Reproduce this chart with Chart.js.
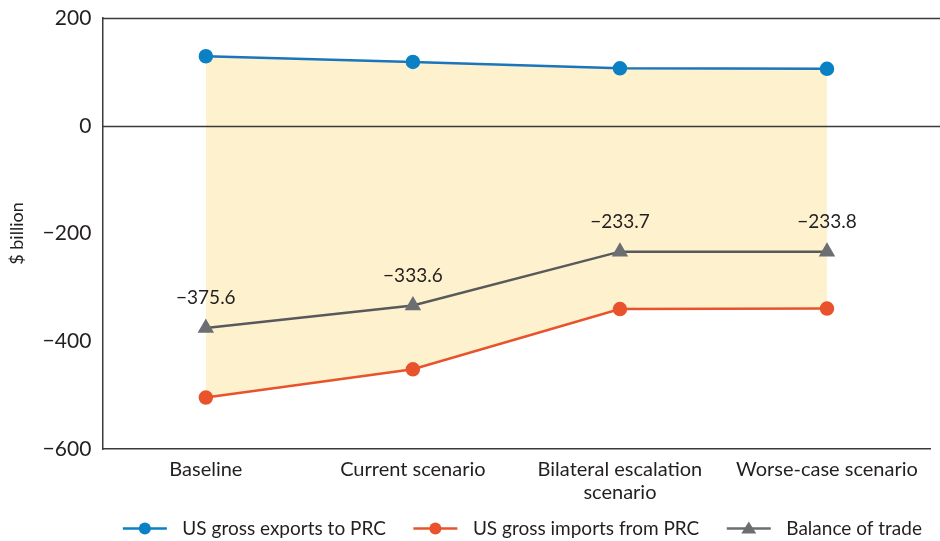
<!DOCTYPE html>
<html>
<head>
<meta charset="utf-8">
<script src="https://cdn.jsdelivr.net/npm/chart.js@4"></script>
<style>
html,body{margin:0;padding:0;background:#fff;}
#wrap{width:940px;height:541px;position:relative;}
</style>
</head>
<body>
<div id="wrap"><canvas id="c" width="940" height="541"></canvas></div>
<script>
const categories = ["Baseline", "Current scenario", ["Bilateral escalation", "scenario"], "Worse-case scenario"];
const exportsToPRC = [129.0, 118.4, 106.5, 105.6];
const importsFromPRC = [-504.6, -452.0, -340.2, -339.4];
const balanceOfTrade = [-375.6, -333.6, -233.7, -233.8];
const balanceLabels = ["\u2212375.6", "\u2212333.6", "\u2212233.7", "\u2212233.8"];
const yTicks = [200, 0, -200, -400, -600];

const FONT = "Lato, 'Open Sans', sans-serif";
const TXT = '#231f20';
const markers = [
  {style:'circle', color:'#0a81c4'},
  {style:'circle', color:'#e9532b'},
  {style:'triangle', color:'#6d6e71'}
];
const LEG_BOX = 62, LEG_LINE = 44, LEG_LEAD = 12;

const overlay = {
  id:'overlay',
  afterDatasetsDraw(chart){
    const ctx = chart.ctx, ca = chart.chartArea, y = chart.scales.y;
    ctx.save();
    ctx.strokeStyle = '#3a3a3a';
    ctx.lineWidth = 1.5;
    [0, 200].forEach(v=>{
      const py = Math.round(y.getPixelForValue(v)) + 0.5;
      ctx.beginPath(); ctx.moveTo(ca.left, py); ctx.lineTo(chart.width, py); ctx.stroke();
    });
    const meta = chart.getDatasetMeta(2);
    ctx.fillStyle = TXT;
    ctx.font = "19px " + FONT;
    ctx.textAlign = 'center';
    ctx.textBaseline = 'middle';
    meta.data.forEach((pt,i)=>{
      ctx.fillText(balanceLabels[i], pt.x, pt.y - 30);
    });
    ctx.restore();
  },
  afterDraw(chart){
    const lg = chart.legend;
    if(!lg || !lg.legendHitBoxes) return;
    const ctx = chart.ctx;
    ctx.save();
    lg.legendHitBoxes.forEach((hb,i)=>{
      const x0 = hb.left + LEG_LEAD;
      const cx = x0 + LEG_LINE/2;
      const cy = hb.top + hb.height/2;
      ctx.strokeStyle = markers[i].color;
      ctx.lineWidth = 2.5;
      ctx.beginPath(); ctx.moveTo(x0, cy); ctx.lineTo(x0+LEG_LINE, cy); ctx.stroke();
      ctx.fillStyle = markers[i].color;
      if(markers[i].style==='circle'){
        ctx.beginPath(); ctx.arc(cx, cy, 6, 0, Math.PI*2); ctx.fill();
      } else {
        ctx.beginPath(); ctx.moveTo(cx, cy-7); ctx.lineTo(cx+7.5, cy+5); ctx.lineTo(cx-7.5, cy+5); ctx.closePath(); ctx.fill();
      }
    });
    ctx.restore();
  }
};

new Chart(document.getElementById('c'), {
  type:'line',
  data:{
    labels:categories,
    datasets:[
      {label:'US gross exports to PRC', data:exportsToPRC, borderColor:'#1a75bc', backgroundColor:'#fdf1ce',
       pointBackgroundColor:'#0a81c4', pointBorderColor:'#0a81c4', pointRadius:6, pointHoverRadius:6,
       borderWidth:2.5, fill:'+1', tension:0},
      {label:'US gross imports from PRC', data:importsFromPRC, borderColor:'#e9532b', backgroundColor:'#e9532b',
       pointBackgroundColor:'#e9532b', pointBorderColor:'#e9532b', pointRadius:6, pointHoverRadius:6,
       borderWidth:2.5, fill:false, tension:0},
      {label:'Balance of trade', data:balanceOfTrade, borderColor:'#58595b', backgroundColor:'#6d6e71',
       pointStyle:'triangle', pointBackgroundColor:'#6d6e71', pointBorderColor:'#6d6e71', pointRadius:7, pointHoverRadius:7,
       borderWidth:2.5, fill:false, tension:0}
    ]
  },
  options:{
    responsive:false,
    animation:false,
    devicePixelRatio:1,
    layout:{padding:{top:18, right:0, left:6, bottom:-7}},
    scales:{
      x:{
        offset:true,
        grid:{display:false, drawTicks:false},
        border:{display:true, color:'#3a3a3a', width:1.5},
        ticks:{color:TXT, font:{family:FONT, size:20, lineHeight:1.15}, padding:9, maxRotation:0, autoSkip:false}
      },
      y:{
        min:-600, max:200,
        afterBuildTicks(axis){ axis.ticks = yTicks.map(v=>({value:v})); },
        afterFit(axis){ axis.paddingTop = 0; },
        grid:{display:false, drawTicks:false},
        border:{display:true, color:'#3a3a3a', width:1.5},
        ticks:{color:TXT, font:{family:FONT, size:21}, padding:11,
          callback:v=> v<0 ? '\u2212'+Math.abs(v) : String(v)},
        title:{display:true, text:'$ billion', color:TXT, font:{family:FONT, size:18}, padding:{top:0,bottom:4}}
      }
    },
    plugins:{
      filler:{drawTime:'beforeDatasetsDraw'},
      legend:{
        position:'bottom',
        fullSize:false,
        labels:{
          color:TXT, font:{family:FONT, size:19}, boxWidth:LEG_BOX, boxHeight:0, padding:6,
          generateLabels(chart){
            return chart.data.datasets.map((d,i)=>({text:d.label + (i<2 ? '\u2002' : ''), fillStyle:'rgba(0,0,0,0)', strokeStyle:'rgba(0,0,0,0)', lineWidth:0, datasetIndex:i, fontColor:TXT}));
          }
        }
      },
      tooltip:{enabled:false}
    }
  },
  plugins:[overlay]
});
</script>
</body>
</html>
